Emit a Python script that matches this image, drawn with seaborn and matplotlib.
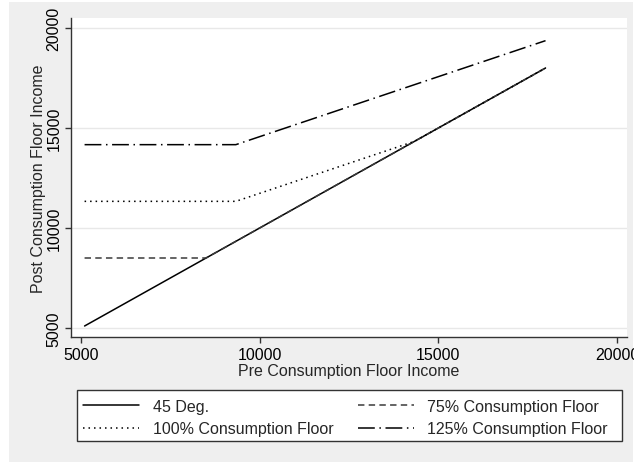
import matplotlib
matplotlib.use("Agg")
import matplotlib.pyplot as plt
import seaborn as sns
import pandas as pd
from matplotlib.patches import Rectangle

# ---- data ----
deg45_x = [5100, 18000]
deg45_y = [5100, 18000]
floor75_x = [5100, 8500, 18000]
floor75_y = [8500, 8500, 18000]
floor100_x = [5100, 9333, 14333, 18000]
floor100_y = [11333, 11333, 14333, 18000]
floor125_x = [5100, 9333, 18000]
floor125_y = [14167, 14167, 19367]
labels = ["45 Deg.", "75% Consumption Floor", "100% Consumption Floor", "125% Consumption Floor"]
xticks = [5000, 10000, 15000, 20000]
yticks = [5000, 10000, 15000, 20000]
xlabel = "Pre Consumption Floor Income"
ylabel = "Post Consumption Floor Income"

sns.set_theme(style="white")
plt.rcParams['font.family'] = ['Liberation Sans', 'DejaVu Sans']

W, H = 634, 464
fig = plt.figure(figsize=(W/100, H/100), dpi=100)
fig.patch.set_facecolor("white")
fig.patches.append(Rectangle((9/W, 1/H), 624/W, 460/H, transform=fig.transFigure,
                             facecolor="#efefef", edgecolor="none", zorder=-10))
ax = fig.add_axes([71/W, 1-338/H, 556/W, 319/H])
ax.set_facecolor("white")

lw = 1.1
series = [
    (deg45_x, deg45_y, labels[0], None, "black"),
    (floor75_x, floor75_y, labels[1], (0, (4.2, 2.8)), "#3a3a3a"),
    (floor100_x, floor100_y, labels[2], (0, (1, 2.6)), "black"),
    (floor125_x, floor125_y, labels[3], (0, (11, 3, 1, 3)), "black"),
]
handles = {}
for xs, ys, lab, ls, col in series:
    df = pd.DataFrame({"x": xs, "y": ys})
    sns.lineplot(data=df, x="x", y="y", ax=ax, color=col, linewidth=lw,
                 estimator=None, sort=False, label=lab)
    line = ax.get_lines()[-1]
    if ls is not None:
        line.set_linestyle(ls)
    handles[lab] = line
ax.get_legend().remove()

ax.set_xlim(4720, 20280)
ax.set_ylim(4550, 20500)
ax.set_xticks(xticks)
ax.set_yticks(yticks)
ax.set_xticklabels([str(t) for t in xticks], fontsize=11.5)
ax.set_yticklabels([str(t) for t in yticks], fontsize=11.5, rotation=90, va="center")
ax.yaxis.grid(True, color="#e8e8e8", linewidth=1.0)
ax.xaxis.grid(False)
ax.set_axisbelow(True)
for s in ["top", "right"]:
    ax.spines[s].set_visible(False)
for s in ["left", "bottom"]:
    ax.spines[s].set_color("#333333")
    ax.spines[s].set_linewidth(1.0)
ax.tick_params(axis="x", which="major", direction="out", length=4, width=1.0,
               color="#333333", bottom=True, pad=3, labelcolor="black")
ax.tick_params(axis="y", which="major", direction="out", length=4, width=1.0,
               color="#333333", left=True, pad=3, labelcolor="black")
ax.set_xlabel(xlabel, fontsize=11.5, labelpad=1)
ax.set_ylabel(ylabel, fontsize=11.5, labelpad=0)

# legend frame
fig.patches.append(Rectangle((77/W, 1-442/H), 545/W, 51/H, transform=fig.transFigure,
                             facecolor="white", edgecolor="#333333", linewidth=1.0, zorder=1))
order = [labels[0], labels[2], labels[1], labels[3]]
leg = fig.legend([handles[l] for l in order], order, ncol=2, mode="expand",
                 bbox_to_anchor=(77/W, 1-418.5/H, 537/W, 0), loc="center left",
                 fontsize=11.5, frameon=False, handlelength=3.5,
                 borderaxespad=0, handletextpad=0.85, labelspacing=0.5, borderpad=0.4)
leg.set_zorder(5)

fig.savefig("out.png", dpi=100, facecolor=fig.get_facecolor())
